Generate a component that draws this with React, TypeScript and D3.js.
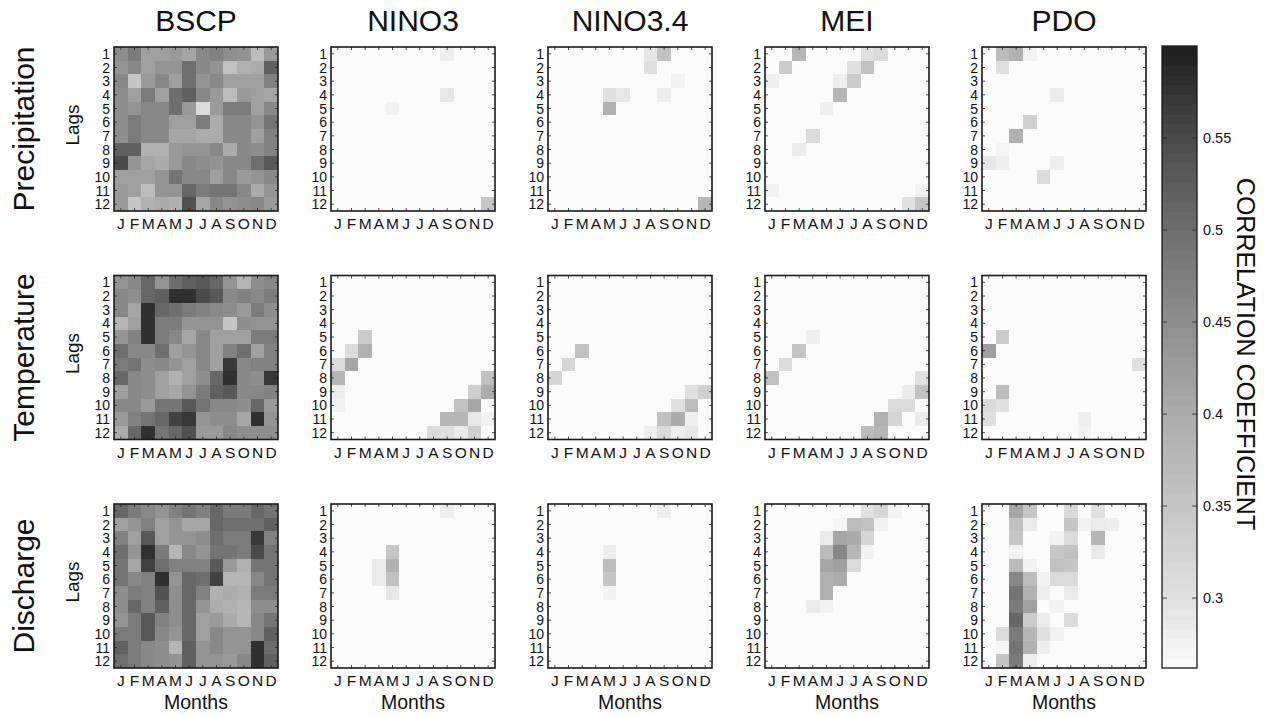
import React from 'react';
import * as d3 from 'd3';

// axis labels
const months = ['J', 'F', 'M', 'A', 'M', 'J', 'J', 'A', 'S', 'O', 'N', 'D'];
const lags = ['1', '2', '3', '4', '5', '6', '7', '8', '9', '10', '11', '12'];
const indices = ['BSCP', 'NINO3', 'NINO3.4', 'MEI', 'PDO'];
const variables = ['Precipitation', 'Temperature', 'Discharge'];
const cbTicks = [0.3, 0.35, 0.4, 0.45, 0.5, 0.55];

// BSCP correlations, rows = lag 1..12, cols = month J..D
const bscpPrecip = [
  [0.45, 0.48, 0.42, 0.42, 0.43, 0.41, 0.46, 0.47, 0.45, 0.44, 0.37, 0.43],
  [0.44, 0.46, 0.42, 0.44, 0.44, 0.50, 0.46, 0.44, 0.36, 0.39, 0.40, 0.52],
  [0.46, 0.35, 0.43, 0.46, 0.42, 0.50, 0.44, 0.46, 0.42, 0.42, 0.42, 0.47],
  [0.45, 0.42, 0.48, 0.42, 0.50, 0.52, 0.46, 0.43, 0.37, 0.43, 0.42, 0.41],
  [0.45, 0.44, 0.46, 0.46, 0.50, 0.43, 0.31, 0.43, 0.48, 0.48, 0.42, 0.46],
  [0.45, 0.48, 0.46, 0.46, 0.42, 0.42, 0.48, 0.40, 0.46, 0.46, 0.44, 0.49],
  [0.45, 0.48, 0.46, 0.46, 0.41, 0.41, 0.40, 0.40, 0.46, 0.46, 0.42, 0.47],
  [0.52, 0.52, 0.39, 0.39, 0.43, 0.44, 0.44, 0.46, 0.40, 0.46, 0.45, 0.47],
  [0.55, 0.44, 0.41, 0.40, 0.43, 0.46, 0.45, 0.44, 0.46, 0.46, 0.50, 0.53],
  [0.42, 0.42, 0.42, 0.44, 0.49, 0.46, 0.46, 0.42, 0.46, 0.43, 0.44, 0.46],
  [0.43, 0.42, 0.37, 0.44, 0.44, 0.51, 0.48, 0.49, 0.49, 0.46, 0.40, 0.44],
  [0.43, 0.35, 0.39, 0.40, 0.39, 0.54, 0.41, 0.46, 0.44, 0.45, 0.46, 0.43],
];

const bscpTemp = [
  [0.44, 0.46, 0.51, 0.44, 0.50, 0.52, 0.53, 0.51, 0.44, 0.38, 0.45, 0.46],
  [0.46, 0.45, 0.51, 0.52, 0.58, 0.58, 0.55, 0.53, 0.46, 0.47, 0.46, 0.48],
  [0.46, 0.41, 0.58, 0.51, 0.50, 0.48, 0.47, 0.46, 0.45, 0.43, 0.48, 0.45],
  [0.38, 0.42, 0.58, 0.48, 0.48, 0.44, 0.44, 0.44, 0.35, 0.45, 0.44, 0.44],
  [0.44, 0.47, 0.58, 0.48, 0.46, 0.41, 0.46, 0.42, 0.42, 0.42, 0.48, 0.48],
  [0.50, 0.46, 0.46, 0.50, 0.42, 0.44, 0.46, 0.42, 0.47, 0.50, 0.42, 0.47],
  [0.48, 0.49, 0.45, 0.46, 0.44, 0.42, 0.46, 0.42, 0.57, 0.46, 0.47, 0.47],
  [0.51, 0.46, 0.45, 0.42, 0.39, 0.42, 0.45, 0.51, 0.58, 0.46, 0.45, 0.57],
  [0.42, 0.46, 0.45, 0.42, 0.41, 0.44, 0.48, 0.52, 0.53, 0.46, 0.46, 0.47],
  [0.46, 0.46, 0.43, 0.49, 0.49, 0.53, 0.49, 0.46, 0.46, 0.45, 0.51, 0.43],
  [0.43, 0.47, 0.49, 0.51, 0.56, 0.57, 0.44, 0.45, 0.45, 0.41, 0.58, 0.44],
  [0.40, 0.51, 0.58, 0.49, 0.51, 0.54, 0.43, 0.43, 0.46, 0.45, 0.45, 0.45],
];

const bscpDischarge = [
  [0.51, 0.48, 0.46, 0.44, 0.47, 0.49, 0.47, 0.51, 0.48, 0.48, 0.51, 0.49],
  [0.42, 0.44, 0.47, 0.42, 0.44, 0.41, 0.41, 0.51, 0.50, 0.50, 0.50, 0.52],
  [0.47, 0.42, 0.53, 0.42, 0.44, 0.44, 0.45, 0.50, 0.48, 0.48, 0.57, 0.47],
  [0.50, 0.44, 0.58, 0.48, 0.38, 0.46, 0.44, 0.49, 0.49, 0.48, 0.55, 0.49],
  [0.49, 0.41, 0.56, 0.50, 0.47, 0.47, 0.47, 0.53, 0.43, 0.39, 0.49, 0.49],
  [0.49, 0.46, 0.47, 0.58, 0.44, 0.51, 0.50, 0.56, 0.38, 0.38, 0.46, 0.49],
  [0.45, 0.48, 0.47, 0.54, 0.45, 0.51, 0.47, 0.39, 0.40, 0.39, 0.48, 0.48],
  [0.45, 0.51, 0.47, 0.52, 0.45, 0.51, 0.44, 0.40, 0.39, 0.38, 0.45, 0.45],
  [0.44, 0.48, 0.53, 0.47, 0.45, 0.51, 0.42, 0.43, 0.40, 0.38, 0.46, 0.49],
  [0.48, 0.48, 0.53, 0.46, 0.44, 0.51, 0.42, 0.46, 0.44, 0.44, 0.46, 0.52],
  [0.52, 0.48, 0.46, 0.45, 0.38, 0.52, 0.44, 0.46, 0.44, 0.44, 0.58, 0.50],
  [0.50, 0.48, 0.46, 0.45, 0.44, 0.52, 0.44, 0.44, 0.43, 0.46, 0.58, 0.52],
];

// climate indices: only significant cells, [lag, month (1-12), r]
const nino3Precip = [[1, 9, 0.28], [4, 9, 0.29], [5, 5, 0.275], [12, 12, 0.35]];
const nino34Precip = [
  [1, 8, 0.29], [2, 8, 0.3], [1, 9, 0.36], [3, 10, 0.275], [4, 5, 0.3], [4, 6, 0.29],
  [5, 5, 0.39], [4, 9, 0.28], [12, 12, 0.38],
];
const meiPrecip = [
  [1, 3, 0.38], [2, 2, 0.34], [3, 1, 0.28], [1, 8, 0.3], [1, 9, 0.31], [2, 7, 0.3],
  [2, 8, 0.36], [3, 6, 0.28], [3, 7, 0.34], [4, 6, 0.38], [5, 5, 0.28], [7, 4, 0.31],
  [8, 3, 0.285], [11, 1, 0.275], [11, 12, 0.275], [12, 11, 0.3], [12, 12, 0.35],
];
const pdoPrecip = [
  [1, 2, 0.37], [1, 3, 0.39], [1, 4, 0.275], [2, 2, 0.3], [4, 6, 0.285], [6, 4, 0.33],
  [7, 3, 0.39], [8, 2, 0.27], [9, 1, 0.29], [9, 2, 0.28], [9, 6, 0.28], [10, 5, 0.31],
];

const nino3Temp = [
  [5, 3, 0.34], [6, 2, 0.31], [6, 3, 0.39], [7, 1, 0.31], [7, 2, 0.41], [8, 1, 0.38],
  [9, 1, 0.28], [10, 1, 0.275], [8, 12, 0.36], [9, 11, 0.33], [9, 12, 0.4], [10, 10, 0.36],
  [10, 11, 0.41], [11, 9, 0.38], [11, 10, 0.38], [11, 11, 0.29], [11, 12, 0.275],
  [12, 8, 0.31], [12, 9, 0.3], [12, 10, 0.285], [12, 11, 0.33],
];
const nino34Temp = [
  [6, 3, 0.36], [7, 2, 0.32], [8, 1, 0.32], [9, 11, 0.3], [9, 12, 0.33], [10, 10, 0.3],
  [10, 11, 0.37], [11, 9, 0.36], [11, 10, 0.4], [11, 11, 0.28], [12, 8, 0.28],
  [12, 9, 0.31], [12, 10, 0.28], [12, 11, 0.29],
];
const meiTemp = [
  [5, 4, 0.28], [6, 3, 0.35], [7, 2, 0.31], [8, 1, 0.36], [8, 12, 0.3], [9, 11, 0.285],
  [9, 12, 0.36], [10, 10, 0.31], [10, 11, 0.31], [11, 9, 0.39], [11, 10, 0.32],
  [11, 12, 0.285], [12, 8, 0.37], [12, 9, 0.38],
];
const pdoTemp = [
  [5, 2, 0.34], [6, 1, 0.42], [7, 12, 0.3], [9, 2, 0.37], [10, 1, 0.31], [10, 2, 0.3],
  [11, 1, 0.3], [11, 8, 0.28], [12, 8, 0.275],
];

const nino3Discharge = [
  [1, 9, 0.28], [4, 5, 0.35], [5, 4, 0.285], [5, 5, 0.39], [6, 4, 0.285], [6, 5, 0.36],
  [7, 5, 0.29],
];
const nino34Discharge = [[1, 9, 0.28], [4, 5, 0.28], [5, 5, 0.37], [6, 5, 0.35], [7, 5, 0.275]];
const meiDischarge = [
  [1, 8, 0.3], [1, 9, 0.32], [1, 10, 0.275], [2, 6, 0.27], [2, 7, 0.37], [2, 8, 0.36],
  [2, 9, 0.275], [3, 5, 0.285], [3, 6, 0.41], [3, 7, 0.4], [3, 8, 0.32], [4, 5, 0.37],
  [4, 6, 0.46], [4, 7, 0.38], [4, 8, 0.275], [5, 5, 0.41], [5, 6, 0.42], [5, 7, 0.31],
  [6, 5, 0.39], [6, 6, 0.4], [7, 5, 0.39], [8, 4, 0.285], [8, 5, 0.275],
];
const pdoDischarge = [
  [1, 3, 0.41], [1, 4, 0.35], [1, 7, 0.31], [1, 9, 0.3],
  [2, 3, 0.36], [2, 4, 0.285], [2, 7, 0.35], [2, 8, 0.275], [2, 9, 0.285], [2, 10, 0.28],
  [3, 3, 0.35], [3, 6, 0.275], [3, 7, 0.31], [3, 9, 0.38],
  [4, 3, 0.275], [4, 6, 0.35], [4, 7, 0.36], [4, 9, 0.285],
  [5, 3, 0.37], [5, 4, 0.275], [5, 6, 0.36], [5, 7, 0.35],
  [6, 3, 0.46], [6, 4, 0.37], [6, 5, 0.275], [6, 6, 0.31], [6, 7, 0.31],
  [7, 3, 0.49], [7, 4, 0.39], [7, 5, 0.28], [7, 7, 0.285],
  [8, 3, 0.48], [8, 4, 0.42], [8, 6, 0.275],
  [9, 3, 0.51], [9, 4, 0.34], [9, 5, 0.285], [9, 7, 0.31],
  [10, 2, 0.31], [10, 3, 0.48], [10, 4, 0.38], [10, 5, 0.3], [10, 6, 0.275],
  [11, 2, 0.27], [11, 3, 0.49], [11, 4, 0.39], [11, 5, 0.28],
  [12, 2, 0.35], [12, 3, 0.48], [12, 4, 0.28],
];

const R_MIN = 0.262;
const R_MAX = 0.6;

const toGrid = (cells: number[][]) => {
  const g = d3.range(12).map(() => d3.range(12).map(() => R_MIN));
  cells.forEach(([lag, m, r]) => { g[lag - 1][m - 1] = r; });
  return g;
};

const grids = [
  [bscpPrecip, toGrid(nino3Precip), toGrid(nino34Precip), toGrid(meiPrecip), toGrid(pdoPrecip)],
  [bscpTemp, toGrid(nino3Temp), toGrid(nino34Temp), toGrid(meiTemp), toGrid(pdoTemp)],
  [bscpDischarge, toGrid(nino3Discharge), toGrid(nino34Discharge), toGrid(meiDischarge), toGrid(pdoDischarge)],
];

const W = 1264;
const H = 715;
const FONT = '"Liberation Sans", Arial, Helvetica, sans-serif';
const SIZE = 164;
const colX = (c: number) => 114 + c * 217;
const rowY = (r: number) => 47 + r * 228.5;

// reversed gray colormap, slightly lifted in the mid tones like the printed figure
const color = d3.scaleLinear<string>()
  .domain([R_MIN, 0.3, 0.35, 0.4, 0.45, 0.5, 0.55, R_MAX])
  .range(['#fbfbfb', '#e0e0e0', '#c6c6c6', '#acacac', '#8e8e8e', '#6e6e6e', '#4a4a4a', '#1e1e1e'])
  .clamp(true);

const xb = d3.scaleBand<number>().domain(d3.range(12)).range([0, SIZE]);
const yb = d3.scaleBand<number>().domain(d3.range(12)).range([0, SIZE]);

const Panel = ({ grid, x, y, showMonths }: { grid: number[][]; x: number; y: number; showMonths: boolean }) => {
  const bw = xb.bandwidth();
  return (
    <g transform={`translate(${x},${y})`}>
      {grid.map((row, li) =>
        row.map((r, mi) => (
          <rect key={`${li}-${mi}`} x={xb(mi)} y={yb(li)} width={bw + 0.4} height={yb.bandwidth() + 0.4}
            fill={color(r)} shapeRendering="crispEdges" />
        ))
      )}
      {/* inner ticks on all sides */}
      {d3.range(12).map(i => {
        const cx = (xb(i) as number) + bw / 2;
        const cy = (yb(i) as number) + yb.bandwidth() / 2;
        return (
          <g key={`t${i}`} stroke="#222" strokeWidth={0.8}>
            <line x1={cx} x2={cx} y1={0} y2={3} />
            <line x1={cx} x2={cx} y1={SIZE} y2={SIZE - 3} />
            <line x1={0} x2={3} y1={cy} y2={cy} />
            <line x1={SIZE} x2={SIZE - 3} y1={cy} y2={cy} />
          </g>
        );
      })}
      <rect x={0} y={0} width={SIZE} height={SIZE} fill="none" stroke="#1a1a1a" strokeWidth={1.6} />
      {lags.map((l, i) => (
        <text key={`l${i}`} x={-4} y={(yb(i) as number) + yb.bandwidth() / 2} dy="0.36em"
          textAnchor="end" fontSize={14} fill="#111">{l}</text>
      ))}
      {months.map((m, i) => (
        <text key={`m${i}`} x={(xb(i) as number) + bw / 2} y={SIZE + 18}
          textAnchor="middle" fontSize={15.5} fill="#111">{m}</text>
      ))}
      {showMonths && (
        <text x={SIZE / 2} y={SIZE + 41} textAnchor="middle" fontSize={19.5} fill="#111">Months</text>
      )}
    </g>
  );
};

const App = () => {
  const cbX = 1162;
  const cbW = 35;
  const cbTop = 46;
  const cbBottom = 668;
  const cbY = d3.scaleLinear().domain([R_MIN, R_MAX]).range([cbBottom, cbTop]);
  const nBands = 64;
  const bandVals = d3.range(nBands).map(i => R_MIN + (i + 0.5) * (R_MAX - R_MIN) / nBands);
  const bandH = (cbBottom - cbTop) / nBands;

  return (
    <svg width={W} height={H} style={{ position: 'absolute', left: 0, top: 0, background: '#fff' }}
      fontFamily={FONT}>
      <rect width={W} height={H} fill="#fff" />

      {indices.map((name, c) => (
        <text key={name} x={colX(c) + SIZE / 2} y={31} textAnchor="middle" fontSize={30} fill="#111">{name}</text>
      ))}

      {variables.map((name, r) => (
        <g key={name}>
          <text transform={`translate(34,${rowY(r) + SIZE / 2}) rotate(-90)`} textAnchor="middle"
            fontSize={30} fill="#111">{name}</text>
          <text transform={`translate(79,${rowY(r) + SIZE / 2 - 4}) rotate(-90)`} textAnchor="middle"
            fontSize={19} fill="#111">Lags</text>
        </g>
      ))}

      {grids.map((row, r) =>
        row.map((grid, c) => (
          <Panel key={`${r}-${c}`} grid={grid} x={colX(c)} y={rowY(r)} showMonths={r === 2} />
        ))
      )}

      {/* colorbar */}
      {bandVals.map((v, i) => (
        <rect key={`cb${i}`} x={cbX} y={cbBottom - (i + 1) * bandH} width={cbW} height={bandH + 0.5}
          fill={color(v)} shapeRendering="crispEdges" />
      ))}
      <rect x={cbX} y={cbTop} width={cbW} height={cbBottom - cbTop} fill="none" stroke="#1a1a1a" strokeWidth={1.3} />
      {cbTicks.map(t => (
        <g key={`cbt${t}`}>
          <line x1={cbX} x2={cbX + 5} y1={cbY(t)} y2={cbY(t)} stroke="#222" strokeWidth={0.8} />
          <line x1={cbX + cbW} x2={cbX + cbW - 5} y1={cbY(t)} y2={cbY(t)} stroke="#222" strokeWidth={0.8} />
          <text x={cbX + cbW + 6} y={cbY(t)} dy="0.36em" fontSize={14.5} fill="#111">{String(t)}</text>
        </g>
      ))}
      <text transform={`translate(1237,${(cbTop + cbBottom) / 2 - 3}) rotate(90)`} textAnchor="middle"
        fontSize={25} fill="#111">CORRELATION COEFFICIENT</text>
    </svg>
  );
};

export default App;
